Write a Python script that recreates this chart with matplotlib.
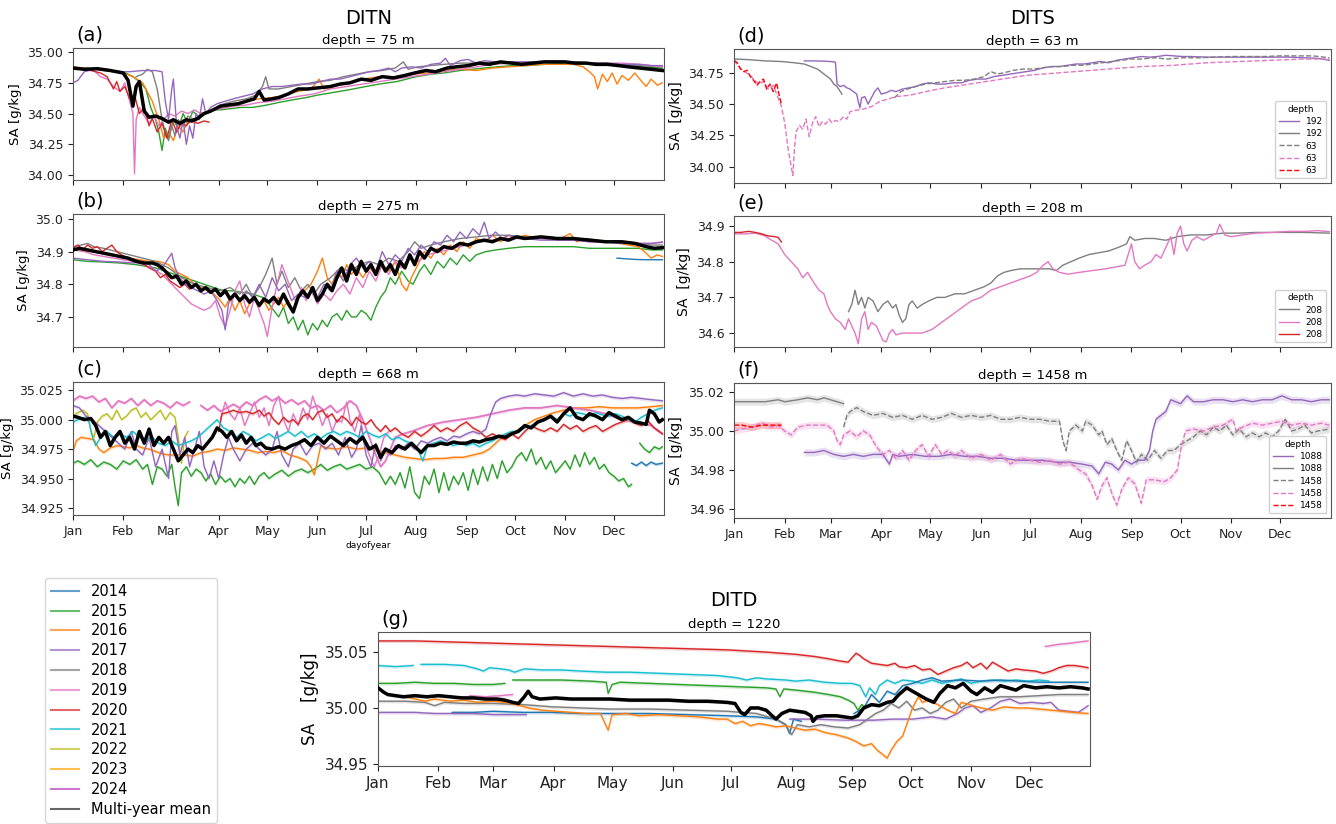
import numpy as np
import matplotlib
matplotlib.use("Agg")
import matplotlib.pyplot as plt
from matplotlib.lines import Line2D

# === colours per year ===
years = ['2014', '2015', '2016', '2017', '2018', '2019', '2020', '2021', '2022', '2023', '2024']
year_colors = ['#1f77b4', '#2ca02c', '#ff7f0e', '#9467bd', '#7f7f7f', '#e377c2',
               '#d62728', '#17becf', '#bcbd22', '#ffa500', '#b93cb9']
col = dict(zip(years, year_colors))

month_starts = [1, 32, 60, 91, 121, 152, 182, 213, 244, 274, 305, 335]
month_names = ['Jan', 'Feb', 'Mar', 'Apr', 'May', 'Jun', 'Jul', 'Aug', 'Sep', 'Oct', 'Nov', 'Dec']

# === (a) DITN, depth = 75 m  (day of year, SA) ===
a_2014 = [(350, 34.87), (358, 34.86), (365, 34.86)]
a_2015 = [(1, 34.87), (8, 34.87), (16, 34.86), (24, 34.85), (32, 34.84), (38, 34.80), (42, 34.76), (46, 34.70),
          (49, 34.55), (52, 34.45), (54, 34.35), (56, 34.20), (58, 34.38), (60, 34.30), (63, 34.45), (66, 34.38),
          (69, 34.50), (72, 34.42), (75, 34.52), (78, 34.48), (82, 34.50), (87, 34.53), (92, 34.53), (98, 34.54),
          (105, 34.55), (112, 34.55), (121, 34.57), (128, 34.59), (136, 34.61), (145, 34.63), (152, 34.65),
          (161, 34.67), (170, 34.69), (182, 34.72), (190, 34.74), (201, 34.76), (207, 34.78), (213, 34.80),
          (222, 34.82), (230, 34.83), (240, 34.85), (247, 34.86), (255, 34.87), (263, 34.88), (272, 34.89),
          (282, 34.89), (292, 34.90), (305, 34.91), (318, 34.91), (330, 34.90), (342, 34.89), (352, 34.88),
          (365, 34.87)]
a_2016 = [(1, 34.88), (8, 34.87), (16, 34.86), (24, 34.85), (32, 34.83), (38, 34.80), (44, 34.75), (50, 34.60),
          (54, 34.45), (57, 34.30), (60, 34.35), (63, 34.28), (66, 34.40), (69, 34.35), (72, 34.45), (76, 34.42),
          (80, 34.50), (86, 34.52), (92, 34.55), (100, 34.57), (108, 34.60), (116, 34.62), (124, 34.63),
          (132, 34.65), (140, 34.68), (148, 34.70), (153, 34.78), (156, 34.70), (164, 34.73), (172, 34.75),
          (180, 34.78), (190, 34.80), (200, 34.80), (210, 34.82), (220, 34.83), (230, 34.85), (240, 34.86),
          (250, 34.85), (260, 34.87), (270, 34.88), (280, 34.89), (290, 34.90), (300, 34.90), (310, 34.90),
          (316, 34.88), (320, 34.84), (323, 34.80), (325, 34.70), (328, 34.82), (331, 34.76), (334, 34.83),
          (337, 34.74), (340, 34.81), (344, 34.77), (348, 34.83), (351, 34.78), (355, 34.72), (358, 34.78),
          (362, 34.73), (365, 34.75)]
a_2017 = [(1, 34.75), (4, 34.77), (8, 34.84), (14, 34.86), (20, 34.85), (28, 34.84), (36, 34.84), (44, 34.85),
          (52, 34.85), (56, 34.84), (58, 34.60), (60, 34.45), (62, 34.70), (63, 34.78), (65, 34.40), (67, 34.30),
          (69, 34.45), (71, 34.25), (73, 34.40), (75, 34.30), (77, 34.50), (79, 34.45), (81, 34.62), (83, 34.50),
          (86, 34.55), (90, 34.58), (95, 34.60), (100, 34.62), (106, 34.64), (112, 34.66), (118, 34.70),
          (124, 34.72), (130, 34.72), (136, 34.73), (142, 34.74), (148, 34.74), (154, 34.76), (160, 34.78),
          (166, 34.78), (172, 34.80), (178, 34.82), (184, 34.84), (190, 34.85), (196, 34.87), (200, 34.84),
          (204, 34.87), (210, 34.88), (216, 34.87), (222, 34.90), (228, 34.91), (231, 34.95), (234, 34.89),
          (240, 34.93), (245, 34.94), (250, 34.91), (255, 34.93), (262, 34.92), (270, 34.92), (280, 34.92),
          (290, 34.92), (300, 34.92), (310, 34.92), (320, 34.91), (330, 34.91), (340, 34.90), (350, 34.90),
          (358, 34.89), (365, 34.89)]
a_2018 = [(40, 34.80), (44, 34.82), (47, 34.86), (50, 34.84), (53, 34.70), (56, 34.45), (58, 34.35), (60, 34.28),
          (62, 34.40), (64, 34.32), (66, 34.45), (69, 34.40), (72, 34.48), (76, 34.45), (80, 34.50), (86, 34.52),
          (92, 34.57), (100, 34.60), (108, 34.62), (114, 34.65), (118, 34.72), (120, 34.80), (122, 34.70),
          (128, 34.70), (136, 34.72), (144, 34.74), (152, 34.76), (160, 34.77), (168, 34.80), (176, 34.82),
          (184, 34.84), (192, 34.85), (200, 34.87), (205, 34.92), (208, 34.86), (214, 34.88), (222, 34.89),
          (230, 34.90), (240, 34.91), (250, 34.91), (262, 34.92), (275, 34.92), (290, 34.92), (305, 34.92),
          (320, 34.91), (335, 34.90), (350, 34.89), (365, 34.88)]
a_2019 = [(1, 34.87), (8, 34.86), (14, 34.85), (18, 34.80), (22, 34.78), (26, 34.72), (30, 34.68), (33, 34.75),
          (36, 34.60), (38, 34.50), (39, 34.01), (40, 34.45), (42, 34.55), (45, 34.48), (48, 34.42), (51, 34.48),
          (54, 34.40), (57, 34.45), (60, 34.50), (64, 34.48), (68, 34.52), (72, 34.50), (76, 34.53), (80, 34.50),
          (86, 34.52), (92, 34.54), (100, 34.56), (108, 34.57), (116, 34.59), (124, 34.60), (132, 34.62),
          (140, 34.64), (150, 34.66), (160, 34.70), (170, 34.72), (180, 34.74), (190, 34.76), (200, 34.78),
          (210, 34.80), (220, 34.82), (230, 34.84), (240, 34.86), (250, 34.88), (260, 34.90), (272, 34.91),
          (285, 34.92), (298, 34.93), (310, 34.92), (325, 34.91), (340, 34.91), (352, 34.90), (365, 34.88)]
a_2020 = [(1, 34.87), (6, 34.86), (12, 34.85), (18, 34.83), (22, 34.80), (26, 34.70), (28, 34.76), (30, 34.68),
          (33, 34.72), (36, 34.62), (39, 34.65), (42, 34.50), (45, 34.55), (48, 34.40), (50, 34.46), (53, 34.35),
          (56, 34.42), (59, 34.30), (62, 34.45), (65, 34.35), (68, 34.42), (71, 34.40), (74, 34.45), (78, 34.42),
          (82, 34.44), (85, 34.43)]
a_mean = [(1, 34.87), (8, 34.86), (16, 34.865), (24, 34.85), (32, 34.83), (35, 34.77), (38, 34.56), (40, 34.72),
          (42, 34.76), (45, 34.52), (48, 34.47), (52, 34.48), (56, 34.46), (60, 34.43), (63, 34.45), (67, 34.42),
          (71, 34.45), (74, 34.44), (78, 34.46), (82, 34.50), (86, 34.52), (92, 34.56), (97, 34.57),
          (103, 34.58), (108, 34.60), (113, 34.62), (116, 34.68), (119, 34.61), (124, 34.62), (128, 34.63),
          (134, 34.66), (140, 34.70), (146, 34.70), (153, 34.71), (160, 34.72), (166, 34.74), (172, 34.75),
          (179, 34.78), (185, 34.77), (192, 34.80), (199, 34.79), (206, 34.81), (212, 34.83), (219, 34.85),
          (225, 34.84), (232, 34.87), (238, 34.88), (245, 34.89), (252, 34.91), (258, 34.90), (265, 34.92),
          (272, 34.91), (278, 34.90), (285, 34.91), (292, 34.92), (298, 34.92), (305, 34.92), (311, 34.91),
          (318, 34.91), (324, 34.90), (331, 34.90), (338, 34.89), (344, 34.88), (351, 34.87), (358, 34.86),
          (365, 34.85)]

# === (b) DITN, depth = 275 m ===
b_2014 = [(337, 34.88), (342, 34.878), (348, 34.876), (355, 34.875), (365, 34.875)]
b_2015 = [(1, 34.875), (10, 34.87), (20, 34.868), (30, 34.865), (40, 34.86), (46, 34.855), (52, 34.85),
          (58, 34.84), (64, 34.83), (70, 34.82), (76, 34.81), (82, 34.80), (88, 34.79), (94, 34.78), (100, 34.78),
          (106, 34.775), (112, 34.77), (118, 34.76), (122, 34.74), (125, 34.72), (128, 34.70), (131, 34.73),
          (134, 34.68), (137, 34.70), (140, 34.66), (143, 34.69), (146, 34.645), (149, 34.68), (152, 34.66),
          (155, 34.69), (158, 34.67), (161, 34.70), (164, 34.71), (167, 34.69), (170, 34.72), (173, 34.70),
          (176, 34.70), (179, 34.72), (182, 34.71), (185, 34.69), (188, 34.73), (191, 34.76), (194, 34.78),
          (197, 34.82), (200, 34.80), (204, 34.84), (208, 34.81), (211, 34.80), (215, 34.84), (218, 34.86),
          (222, 34.83), (226, 34.87), (230, 34.85), (234, 34.88), (238, 34.86), (242, 34.89), (246, 34.87),
          (250, 34.89), (256, 34.90), (262, 34.905), (270, 34.91), (280, 34.915), (290, 34.915), (300, 34.915),
          (310, 34.915), (320, 34.91), (330, 34.91), (340, 34.91), (350, 34.91), (358, 34.905), (365, 34.905)]
b_2016 = [(1, 34.91), (6, 34.905), (12, 34.90), (18, 34.895), (24, 34.89), (30, 34.885), (36, 34.88),
          (42, 34.875), (48, 34.87), (54, 34.87), (60, 34.86), (64, 34.84), (68, 34.83), (72, 34.82), (76, 34.80),
          (80, 34.79), (84, 34.78), (88, 34.77), (92, 34.75), (95, 34.73), (98, 34.76), (101, 34.72),
          (104, 34.75), (107, 34.71), (110, 34.74), (113, 34.76), (116, 34.73), (119, 34.75), (122, 34.72),
          (125, 34.74), (128, 34.76), (131, 34.73), (134, 34.75), (137, 34.72), (140, 34.76), (144, 34.78),
          (148, 34.80), (152, 34.84), (155, 34.88), (158, 34.82), (161, 34.80), (164, 34.84), (167, 34.82),
          (170, 34.86), (173, 34.83), (176, 34.85), (180, 34.82), (184, 34.85), (188, 34.83), (192, 34.86),
          (196, 34.84), (200, 34.87), (204, 34.80), (207, 34.78), (210, 34.82), (214, 34.86), (218, 34.90),
          (222, 34.88), (226, 34.91), (230, 34.89), (234, 34.92), (238, 34.90), (242, 34.93), (246, 34.91),
          (250, 34.94), (255, 34.93), (260, 34.95), (265, 34.93), (270, 34.95), (275, 34.94), (280, 34.95),
          (288, 34.94), (295, 34.945), (302, 34.94), (308, 34.955), (312, 34.93), (318, 34.94), (325, 34.935),
          (332, 34.93), (338, 34.925), (344, 34.92), (350, 34.915), (354, 34.90), (358, 34.88), (362, 34.89),
          (365, 34.885)]
b_2017 = [(1, 34.88), (10, 34.875), (20, 34.87), (30, 34.868), (38, 34.865), (44, 34.87), (48, 34.86),
          (52, 34.84), (56, 34.85), (60, 34.88), (62, 34.895), (64, 34.85), (67, 34.82), (70, 34.80), (74, 34.79),
          (78, 34.78), (82, 34.77), (86, 34.78), (90, 34.75), (93, 34.72), (95, 34.66), (97, 34.74), (100, 34.77),
          (104, 34.75), (108, 34.78), (112, 34.76), (116, 34.80), (120, 34.76), (124, 34.82), (128, 34.78),
          (132, 34.80), (136, 34.75), (140, 34.77), (144, 34.76), (148, 34.78), (152, 34.76), (156, 34.80),
          (160, 34.78), (164, 34.84), (168, 34.81), (172, 34.86), (176, 34.88), (180, 34.85), (184, 34.87),
          (188, 34.84), (192, 34.90), (196, 34.86), (200, 34.89), (204, 34.87), (208, 34.91), (212, 34.89),
          (216, 34.92), (220, 34.90), (224, 34.93), (228, 34.92), (232, 34.95), (236, 34.93), (240, 34.96),
          (244, 34.94), (248, 34.97), (252, 34.95), (255, 34.99), (258, 34.94), (262, 34.96), (266, 34.94),
          (270, 34.95), (280, 34.94), (290, 34.935), (300, 34.935), (310, 34.935), (320, 34.93), (330, 34.93),
          (340, 34.925), (350, 34.925), (358, 34.925), (365, 34.928)]
b_2018 = [(1, 34.915), (6, 34.92), (10, 34.925), (14, 34.915), (20, 34.91), (28, 34.90), (36, 34.89), (44, 34.88),
          (52, 34.87), (60, 34.85), (68, 34.82), (76, 34.80), (84, 34.79), (92, 34.78), (98, 34.79), (104, 34.77),
          (108, 34.80), (112, 34.76), (116, 34.79), (120, 34.83), (124, 34.88), (127, 34.80), (130, 34.84),
          (134, 34.79), (138, 34.82), (142, 34.78), (146, 34.80), (150, 34.77), (154, 34.80), (160, 34.82),
          (166, 34.85), (172, 34.84), (178, 34.86), (184, 34.87), (190, 34.86), (196, 34.88), (202, 34.87),
          (208, 34.90), (212, 34.93), (216, 34.91), (222, 34.92), (230, 34.93), (240, 34.94), (250, 34.945),
          (260, 34.95), (270, 34.95), (280, 34.945), (290, 34.94), (300, 34.94), (310, 34.935), (320, 34.935),
          (330, 34.93), (340, 34.93), (350, 34.925), (358, 34.92), (365, 34.92)]
b_2019 = [(1, 34.905), (8, 34.90), (14, 34.89), (20, 34.885), (26, 34.88), (32, 34.875), (38, 34.87), (44, 34.86),
          (50, 34.85), (56, 34.83), (62, 34.80), (66, 34.78), (70, 34.76), (74, 34.74), (78, 34.73), (82, 34.72),
          (86, 34.73), (89, 34.75), (92, 34.70), (95, 34.67), (98, 34.72), (101, 34.78), (104, 34.81),
          (107, 34.74), (110, 34.70), (113, 34.76), (116, 34.72), (119, 34.68), (121, 34.64), (124, 34.73),
          (127, 34.80), (130, 34.86), (133, 34.82), (136, 34.78), (139, 34.74), (142, 34.79), (145, 34.75),
          (148, 34.78), (152, 34.74), (156, 34.77), (160, 34.75), (164, 34.78), (168, 34.80), (172, 34.77),
          (176, 34.82), (180, 34.79), (184, 34.84), (188, 34.81), (192, 34.86), (196, 34.83), (200, 34.87),
          (204, 34.85), (208, 34.88), (214, 34.87), (220, 34.89), (228, 34.90), (236, 34.91), (244, 34.92),
          (252, 34.93), (260, 34.935), (270, 34.94), (280, 34.94), (290, 34.94), (300, 34.935), (310, 34.935),
          (320, 34.93), (330, 34.93), (340, 34.93), (350, 34.925), (358, 34.925), (365, 34.93)]
b_2020 = [(1, 34.91), (4, 34.92), (7, 34.905), (10, 34.92), (13, 34.91), (16, 34.915), (19, 34.90), (22, 34.91),
          (25, 34.92), (28, 34.90), (31, 34.89), (35, 34.88), (40, 34.875), (45, 34.86), (48, 34.85), (52, 34.84),
          (55, 34.82), (58, 34.83), (61, 34.81), (64, 34.80), (67, 34.79), (70, 34.80), (73, 34.785)]
b_mean = [(1, 34.905), (5, 34.91), (10, 34.905), (15, 34.90), (20, 34.895), (25, 34.89), (30, 34.885), (35, 34.88),
          (40, 34.87), (45, 34.865), (50, 34.865), (53, 34.86), (56, 34.85), (59, 34.835), (62, 34.82),
          (65, 34.825), (68, 34.80), (71, 34.81), (74, 34.79), (77, 34.80), (80, 34.78), (83, 34.79), (86, 34.775),
          (89, 34.785), (92, 34.765), (95, 34.78), (98, 34.755), (101, 34.77), (104, 34.75), (107, 34.765),
          (110, 34.745), (113, 34.76), (116, 34.735), (119, 34.755), (122, 34.745), (125, 34.76), (128, 34.74),
          (131, 34.77), (134, 34.74), (137, 34.715), (140, 34.76), (143, 34.78), (146, 34.76), (149, 34.79),
          (152, 34.75), (155, 34.77), (158, 34.80), (161, 34.78), (164, 34.82), (167, 34.85), (170, 34.81),
          (173, 34.86), (176, 34.83), (179, 34.87), (182, 34.84), (185, 34.86), (188, 34.83), (191, 34.87),
          (194, 34.84), (197, 34.86), (200, 34.83), (203, 34.87), (206, 34.85), (209, 34.89), (212, 34.86),
          (215, 34.90), (218, 34.88), (222, 34.91), (226, 34.90), (230, 34.915), (235, 34.91), (240, 34.925),
          (245, 34.92), (250, 34.93), (255, 34.935), (260, 34.93), (265, 34.94), (270, 34.935), (275, 34.945),
          (280, 34.94), (290, 34.945), (300, 34.94), (310, 34.94), (320, 34.935), (330, 34.93), (340, 34.93),
          (348, 34.925), (355, 34.915), (360, 34.91), (365, 34.912)]

# === (c) DITN, depth = 668 m ===
c_2014 = [(346, 34.963), (349, 34.961), (352, 34.964), (355, 34.961), (358, 34.964), (361, 34.962), (365, 34.963)]
c_2015 = [(1, 34.963), (4, 34.965), (8, 34.962), (12, 34.966), (16, 34.96), (20, 34.964), (24, 34.962),
          (28, 34.958), (32, 34.965), (36, 34.962), (40, 34.966), (44, 34.958), (47, 34.962), (50, 34.945),
          (53, 34.96), (56, 34.958), (59, 34.952), (62, 34.962), (64, 34.943), (66, 34.927), (68, 34.955),
          (71, 34.96), (74, 34.952), (77, 34.958), (80, 34.955), (83, 34.948), (86, 34.954), (89, 34.945),
          (92, 34.952), (95, 34.947), (98, 34.95), (101, 34.943), (104, 34.95), (107, 34.946), (110, 34.952),
          (113, 34.945), (116, 34.952), (119, 34.955), (122, 34.95), (126, 34.954), (130, 34.957), (134, 34.952),
          (138, 34.956), (142, 34.958), (146, 34.955), (150, 34.958), (154, 34.962), (158, 34.957), (162, 34.96),
          (166, 34.962), (170, 34.958), (174, 34.96), (178, 34.962), (182, 34.958), (186, 34.96), (190, 34.955),
          (194, 34.945), (197, 34.952), (200, 34.945), (203, 34.955), (206, 34.942), (209, 34.96), (212, 34.938),
          (215, 34.933), (218, 34.952), (221, 34.945), (224, 34.958), (227, 34.938), (230, 34.955), (233, 34.94),
          (236, 34.952), (239, 34.945), (242, 34.955), (245, 34.94), (248, 34.958), (251, 34.945), (254, 34.96),
          (257, 34.948), (260, 34.962), (263, 34.95), (266, 34.965), (269, 34.955), (272, 34.96), (275, 34.968),
          (278, 34.972), (281, 34.965), (284, 34.975), (287, 34.962), (290, 34.968), (293, 34.958), (296, 34.965),
          (299, 34.955), (302, 34.96), (305, 34.965), (308, 34.958), (311, 34.97), (314, 34.96), (317, 34.972),
          (320, 34.962), (323, 34.968), (326, 34.958), (329, 34.962), (332, 34.955), (335, 34.952), (338, 34.948),
          (341, 34.95), (344, 34.943), (346, 34.945)]
c_2015_end = [(351, 34.98), (354, 34.975), (357, 34.972), (360, 34.977), (363, 34.975), (365, 34.977)]
c_2016 = [(1, 34.973), (3, 34.982), (6, 34.985), (10, 34.984), (14, 34.983), (17, 34.975), (20, 34.972),
          (24, 34.976), (28, 34.978), (32, 34.977), (36, 34.976), (40, 34.978), (44, 34.976), (48, 34.975),
          (52, 34.973), (56, 34.971), (60, 34.97), (65, 34.97), (70, 34.97), (75, 34.969), (80, 34.972),
          (85, 34.973), (90, 34.975), (95, 34.974), (100, 34.976), (105, 34.975), (110, 34.974), (115, 34.972),
          (120, 34.973), (125, 34.972), (130, 34.974), (135, 34.97), (140, 34.968), (145, 34.965), (148, 34.96),
          (150, 34.953), (152, 34.965), (154, 34.978), (158, 34.976), (164, 34.975), (170, 34.977), (176, 34.975),
          (182, 34.976), (188, 34.974), (194, 34.972), (200, 34.97), (206, 34.968), (212, 34.967), (218, 34.966),
          (224, 34.967), (230, 34.967), (236, 34.968), (242, 34.968), (248, 34.97), (254, 34.972), (258, 34.975),
          (262, 34.98), (266, 34.985), (270, 34.988), (274, 34.99), (280, 34.995), (286, 35.0), (292, 35.003),
          (298, 35.006), (304, 35.008), (310, 35.01), (318, 35.01), (326, 35.011), (334, 35.01), (342, 35.01),
          (350, 35.01), (358, 35.011), (365, 35.012)]
c_2017 = [(1, 35.012), (5, 35.01), (9, 35.003), (13, 35.0), (17, 34.995), (21, 34.99), (25, 34.985), (29, 34.98),
          (33, 34.975), (37, 34.99), (40, 34.975), (44, 34.97), (48, 34.985), (52, 34.96), (56, 34.975),
          (60, 34.95), (62, 34.99), (64, 34.995), (67, 34.97), (70, 34.985), (73, 34.96), (76, 34.975),
          (79, 34.99), (82, 34.96), (85, 34.95), (88, 34.965), (91, 34.95), (94, 34.97), (97, 34.985),
          (100, 34.975), (104, 34.965), (108, 34.975), (112, 34.98), (116, 34.975), (120, 34.97), (124, 34.975),
          (127, 34.99), (130, 34.97), (134, 34.96), (137, 34.975), (141, 34.98), (145, 34.97), (149, 34.978),
          (153, 34.98), (157, 34.975), (161, 34.98), (165, 34.97), (169, 34.985), (173, 34.968), (176, 34.975),
          (179, 34.995), (182, 34.97), (185, 34.96), (188, 34.98), (191, 34.965), (194, 34.975), (197, 34.97),
          (200, 34.978), (204, 34.975), (208, 34.98), (212, 34.975), (216, 34.982), (220, 34.98), (224, 34.983),
          (228, 34.985), (232, 34.982), (236, 34.986), (240, 34.985), (244, 34.988), (248, 34.99), (252, 34.988),
          (256, 34.992), (259, 35.005), (262, 35.015), (265, 35.018), (270, 35.02), (275, 35.021), (280, 35.02),
          (286, 35.022), (292, 35.021), (298, 35.02), (304, 35.023), (310, 35.02), (316, 35.022), (322, 35.02),
          (328, 35.021), (334, 35.019), (340, 35.018), (346, 35.019), (352, 35.018), (358, 35.017), (365, 35.016)]
c_2019 = [(1, 35.016), (5, 35.02), (9, 35.018), (13, 35.02), (17, 35.015), (21, 35.018), (25, 35.01),
          (29, 35.016), (33, 35.014), (37, 35.018), (41, 35.012), (45, 35.017), (49, 35.012), (53, 35.016),
          (57, 35.014), (61, 35.01), (65, 35.015), (69, 35.012), (73, 35.015)]
c_2019_b = [(80, 35.012), (84, 35.008), (88, 35.012), (92, 35.007), (96, 35.01), (100, 35.013), (104, 35.01),
            (108, 35.015), (112, 35.012), (116, 35.017), (120, 35.02), (124, 35.016), (128, 35.019),
            (132, 35.014), (136, 35.017), (140, 35.013), (144, 35.016), (148, 35.01), (152, 35.012), (156, 35.008),
            (160, 35.012), (164, 35.006), (168, 35.01), (172, 35.016), (176, 35.012), (180, 35.0), (184, 34.985),
            (188, 34.97), (191, 34.96), (194, 34.965), (197, 34.975), (200, 34.985), (205, 34.988), (210, 34.99),
            (220, 34.995), (230, 34.998), (240, 35.0), (250, 35.002), (260, 35.005), (270, 35.008), (280, 35.01),
            (290, 35.01), (300, 35.012), (310, 35.01), (320, 35.008), (330, 35.005), (340, 35.0), (350, 34.998),
            (358, 34.995), (365, 34.988)]
c_2024 = [(92, 35.0), (95, 35.015), (98, 35.005), (101, 35.0), (104, 35.01), (107, 34.995), (110, 35.005),
          (113, 35.015), (116, 35.002), (119, 35.01), (122, 34.995), (125, 35.012), (128, 35.02), (131, 35.0),
          (134, 34.99), (137, 35.005), (140, 34.995), (143, 35.01), (146, 35.0), (149, 35.02), (152, 35.008),
          (155, 34.995), (158, 35.005), (161, 34.99), (164, 35.0), (167, 34.998), (170, 35.015), (172, 35.0),
          (175, 34.99), (178, 35.005), (181, 34.98), (184, 34.97), (187, 34.96), (190, 34.97), (193, 34.985),
          (196, 34.99)]
c_2020 = [(91, 34.99), (93, 35.005), (96, 35.006), (100, 35.008), (104, 35.006), (108, 35.007), (112, 35.005),
          (116, 35.008), (119, 35.003), (122, 35.006), (125, 35.0), (128, 34.996), (131, 35.002), (134, 34.998),
          (137, 35.0), (140, 34.996), (143, 35.003), (146, 35.005), (149, 35.0), (152, 35.006), (155, 35.008),
          (158, 35.002), (161, 35.005), (164, 34.998), (167, 35.003), (170, 35.0), (173, 34.995), (176, 35.002),
          (179, 34.998), (182, 34.996), (185, 35.0), (188, 34.994), (191, 34.99), (194, 34.995), (197, 34.99),
          (200, 34.993), (204, 34.988), (208, 34.985), (212, 34.99), (216, 34.986), (220, 34.99), (224, 34.995),
          (228, 34.99), (232, 34.993), (236, 34.99), (240, 34.995), (244, 34.998), (248, 34.993), (252, 34.99),
          (256, 34.985), (260, 34.988), (264, 34.985), (268, 34.983), (272, 34.988), (276, 34.984), (280, 34.99),
          (284, 34.995), (288, 34.992), (292, 34.99), (296, 34.993), (300, 34.99), (304, 34.996), (308, 34.992),
          (312, 34.995), (316, 34.99), (320, 34.993), (324, 34.995), (328, 34.99), (332, 34.993), (336, 34.996),
          (340, 34.998), (344, 35.0), (348, 34.997), (352, 34.995), (356, 34.999), (360, 34.993), (365, 34.988)]
c_2021 = [(1, 34.998), (4, 35.0), (8, 35.002), (11, 34.998), (13, 34.985), (15, 34.978), (18, 34.985), (22, 34.99),
          (26, 34.985), (30, 34.988), (34, 34.985), (38, 34.99), (42, 34.985), (46, 34.982), (50, 34.985),
          (54, 34.98), (58, 34.978), (62, 34.982), (66, 34.978), (70, 34.98), (74, 34.982), (78, 34.985),
          (82, 34.99), (86, 34.995), (90, 35.0), (94, 34.993), (98, 34.99), (102, 34.985), (106, 34.99),
          (110, 34.987), (114, 34.982), (118, 34.985), (122, 34.988), (126, 34.984), (130, 34.987), (134, 34.99),
          (138, 34.986), (142, 34.99), (146, 34.985), (150, 34.988), (154, 34.984), (158, 34.988), (162, 34.99),
          (166, 34.987), (170, 34.99), (174, 34.988), (178, 34.985), (182, 34.99), (186, 34.987), (190, 34.985),
          (194, 34.988), (198, 34.983), (202, 34.985), (206, 34.982), (210, 34.98), (214, 34.975), (217, 34.965),
          (220, 34.978), (224, 34.98), (228, 34.982), (232, 34.98), (236, 34.978), (240, 34.98), (244, 34.978),
          (248, 34.98), (252, 34.977), (256, 34.98), (260, 34.982), (264, 34.985), (268, 34.988), (272, 34.99),
          (276, 34.99), (280, 34.993), (284, 34.995), (288, 34.998), (292, 35.0), (296, 35.003), (300, 35.0),
          (304, 35.005), (308, 35.003), (312, 35.006), (316, 35.005), (320, 35.003), (324, 35.006), (328, 35.004),
          (332, 35.003), (336, 35.005), (340, 35.003), (344, 35.0), (348, 34.998), (352, 35.002), (356, 35.005),
          (360, 35.008), (365, 35.01)]
c_2022 = [(1, 35.003), (4, 35.006), (7, 35.008), (10, 35.005), (12, 34.99), (14, 34.985), (16, 34.998), (19, 35.003),
          (22, 35.005), (25, 35.0), (28, 35.008), (31, 35.0), (34, 35.003), (37, 35.008), (40, 35.01), (43, 35.002),
          (46, 35.006), (49, 35.0), (52, 35.004), (55, 35.008), (58, 35.0), (61, 35.006), (64, 35.002),
          (66, 34.985), (68, 34.963), (70, 34.985), (72, 34.99)]
c_mean = [(1, 35.003), (4, 35.002), (8, 35.0), (12, 35.001), (15, 34.995), (18, 34.985), (21, 34.99), (24, 34.978),
          (27, 34.985), (30, 34.99), (33, 34.98), (36, 34.985), (39, 34.975), (42, 34.99), (45, 34.98),
          (48, 34.992), (51, 34.978), (54, 34.985), (57, 34.98), (60, 34.985), (63, 34.975), (66, 34.965),
          (69, 34.97), (72, 34.975), (75, 34.972), (78, 34.978), (81, 34.975), (84, 34.98), (87, 34.985),
          (90, 34.993), (93, 34.99), (96, 34.985), (99, 34.99), (102, 34.982), (105, 34.987), (108, 34.98),
          (111, 34.985), (114, 34.978), (117, 34.98), (120, 34.976), (124, 34.975), (128, 34.977), (132, 34.975),
          (136, 34.978), (140, 34.98), (144, 34.983), (148, 34.978), (152, 34.985), (156, 34.98), (160, 34.986),
          (164, 34.982), (168, 34.978), (172, 34.984), (176, 34.98), (180, 34.985), (184, 34.975), (188, 34.978),
          (191, 34.968), (194, 34.975), (198, 34.972), (202, 34.978), (206, 34.975), (210, 34.98), (213, 34.976),
          (216, 34.972), (220, 34.978), (224, 34.978), (228, 34.98), (232, 34.979), (236, 34.981), (240, 34.98),
          (244, 34.98), (248, 34.982), (252, 34.981), (256, 34.983), (260, 34.984), (264, 34.986), (268, 34.985),
          (272, 34.988), (276, 34.99), (280, 34.995), (284, 34.993), (288, 34.998), (292, 35.0), (296, 35.003),
          (300, 34.998), (304, 35.005), (308, 35.01), (312, 35.002), (316, 35.0), (320, 35.005), (324, 35.003),
          (328, 35.0), (332, 35.006), (336, 35.003), (340, 35.0), (344, 35.002), (348, 34.998), (352, 34.997),
          (355, 34.996), (357, 35.008), (360, 35.005), (363, 34.998), (365, 35.0)]

# === (d) DITS, depth = 63 m ===
d_192_purple = [(44, 34.845), (50, 34.845), (56, 34.843), (60, 34.84), (63, 34.835), (64, 34.66), (66, 34.64),
                (68, 34.65), (70, 34.63), (72, 34.62), (74, 34.60), (76, 34.58), (77, 34.52), (78, 34.47),
                (79, 34.55), (81, 34.56), (83, 34.50), (85, 34.55), (87, 34.60), (89, 34.63), (91, 34.58),
                (94, 34.59), (97, 34.61), (100, 34.60), (104, 34.62), (108, 34.63), (112, 34.64), (116, 34.66),
                (120, 34.67), (125, 34.66), (130, 34.66), (135, 34.67), (140, 34.67), (145, 34.69), (150, 34.70),
                (155, 34.70), (160, 34.72), (165, 34.73), (170, 34.74), (175, 34.75), (180, 34.76), (185, 34.77),
                (190, 34.79), (195, 34.80), (200, 34.80), (205, 34.81), (210, 34.82), (215, 34.82), (220, 34.83),
                (225, 34.84), (230, 34.83), (235, 34.85), (240, 34.86), (245, 34.87), (250, 34.88), (255, 34.875),
                (260, 34.88), (265, 34.89), (270, 34.885), (275, 34.88), (280, 34.88), (290, 34.875), (300, 34.875),
                (310, 34.875), (320, 34.875), (330, 34.875), (340, 34.875), (350, 34.87), (358, 34.865), (365, 34.85)]
d_192_gray = [(1, 34.86), (10, 34.855), (20, 34.845), (30, 34.84), (38, 34.83), (44, 34.82), (48, 34.80),
              (52, 34.78), (55, 34.75), (58, 34.72), (60, 34.70), (62, 34.66), (64, 34.64), (66, 34.60), (67, 34.58)]
d_63_gray = [(99, 34.55), (103, 34.60), (107, 34.62), (112, 34.64), (118, 34.66), (124, 34.67), (130, 34.68),
             (136, 34.69), (142, 34.69), (148, 34.70), (154, 34.72), (158, 34.76), (162, 34.74), (166, 34.75),
             (172, 34.77), (178, 34.78), (184, 34.78), (190, 34.79), (196, 34.80), (202, 34.80), (208, 34.81),
             (214, 34.81), (220, 34.82), (226, 34.83), (232, 34.84), (238, 34.85), (244, 34.86), (250, 34.86),
             (258, 34.87), (266, 34.86), (275, 34.87), (285, 34.87), (295, 34.875), (305, 34.88), (315, 34.88),
             (325, 34.88), (335, 34.885), (345, 34.885), (355, 34.885), (365, 34.87)]
d_63_pink = [(1, 34.85), (4, 34.80), (7, 34.76), (10, 34.74), (13, 34.70), (16, 34.66), (19, 34.68), (22, 34.62),
             (25, 34.65), (28, 34.55), (30, 34.48), (32, 34.35), (34, 34.15), (36, 34.0), (37, 33.93), (38, 34.15),
             (39, 34.28), (41, 34.33), (43, 34.30), (45, 34.38), (47, 34.24), (49, 34.35), (51, 34.40), (53, 34.32),
             (55, 34.36), (57, 34.34), (59, 34.38), (61, 34.35), (63, 34.37), (65, 34.36), (68, 34.40), (70, 34.38),
             (72, 34.44), (75, 34.45), (80, 34.46), (85, 34.48), (90, 34.52), (95, 34.54), (100, 34.56),
             (108, 34.57), (115, 34.59), (122, 34.61), (130, 34.63), (140, 34.65), (150, 34.67), (160, 34.69),
             (170, 34.71), (180, 34.73), (190, 34.74), (200, 34.75), (210, 34.76), (220, 34.77), (230, 34.78),
             (240, 34.79), (250, 34.80), (260, 34.805), (270, 34.81), (280, 34.82), (290, 34.83), (300, 34.835),
             (310, 34.84), (320, 34.845), (330, 34.85), (340, 34.855), (350, 34.86), (365, 34.86)]
d_63_red = [(1, 34.85), (3, 34.83), (5, 34.78), (7, 34.76), (9, 34.77), (11, 34.72), (13, 34.69), (15, 34.65),
            (17, 34.68), (19, 34.70), (21, 34.62), (23, 34.66), (25, 34.60), (27, 34.67), (29, 34.55), (30, 34.50)]

# === (e) DITS, depth = 208 m ===
e_gray = [(71, 34.66), (73, 34.68), (75, 34.72), (77, 34.68), (79, 34.70), (81, 34.67), (83, 34.70), (86, 34.69),
          (89, 34.66), (92, 34.68), (95, 34.69), (98, 34.67), (100, 34.68), (102, 34.65), (104, 34.63),
          (106, 34.64), (108, 34.68), (110, 34.69), (113, 34.67), (116, 34.68), (120, 34.69), (125, 34.70),
          (130, 34.70), (136, 34.71), (142, 34.71), (148, 34.72), (154, 34.73), (158, 34.74), (162, 34.76),
          (166, 34.77), (170, 34.775), (176, 34.78), (182, 34.78), (188, 34.78), (194, 34.78), (198, 34.775),
          (202, 34.79), (207, 34.80), (212, 34.81), (218, 34.82), (224, 34.825), (230, 34.83), (236, 34.84),
          (241, 34.85), (243, 34.87), (246, 34.86), (252, 34.865), (258, 34.865), (265, 34.86), (272, 34.87),
          (280, 34.875), (290, 34.875), (300, 34.88), (310, 34.88), (320, 34.882), (335, 34.882), (350, 34.882),
          (365, 34.88)]
e_pink = [(1, 34.878), (8, 34.878), (14, 34.88), (20, 34.872), (24, 34.86), (28, 34.85), (32, 34.82), (36, 34.80),
          (40, 34.78), (43, 34.755), (46, 34.77), (50, 34.74), (53, 34.72), (56, 34.71), (58, 34.68), (60, 34.66),
          (63, 34.64), (66, 34.63), (69, 34.61), (71, 34.64), (73, 34.62), (75, 34.60), (77, 34.57), (79, 34.64),
          (81, 34.66), (83, 34.61), (85, 34.63), (88, 34.62), (90, 34.60), (92, 34.58), (94, 34.575), (96, 34.60),
          (98, 34.61), (100, 34.595), (104, 34.60), (110, 34.60), (116, 34.60), (122, 34.61), (128, 34.63),
          (134, 34.65), (140, 34.67), (146, 34.69), (152, 34.70), (158, 34.72), (164, 34.73), (170, 34.74),
          (176, 34.75), (182, 34.76), (186, 34.77), (190, 34.79), (193, 34.80), (196, 34.78), (200, 34.77),
          (205, 34.765), (212, 34.77), (220, 34.775), (228, 34.78), (234, 34.785), (240, 34.79), (242, 34.82),
          (244, 34.85), (246, 34.80), (249, 34.78), (252, 34.79), (256, 34.80), (259, 34.82), (262, 34.81),
          (265, 34.84), (268, 34.87), (270, 34.82), (272, 34.88), (274, 34.90), (276, 34.85), (278, 34.83),
          (281, 34.86), (284, 34.87), (288, 34.86), (292, 34.87), (296, 34.88), (298, 34.905), (301, 34.875),
          (305, 34.87), (312, 34.875), (320, 34.88), (330, 34.882), (340, 34.885), (350, 34.885), (358, 34.887),
          (365, 34.884)]
e_red = [(1, 34.882), (5, 34.882), (10, 34.885), (14, 34.882), (18, 34.878), (22, 34.872), (26, 34.87), (28, 34.868),
         (30, 34.855)]

# === (f) DITS, depth = 1458 m ===
f_1088_gray = [(1, 35.015), (10, 35.015), (20, 35.015), (28, 35.016), (32, 35.015), (40, 35.016), (46, 35.017),
               (52, 35.016), (56, 35.017), (60, 35.016), (64, 35.015), (68, 35.014)]
f_1458_gray = [(68, 35.002), (70, 35.008), (72, 35.01), (76, 35.012), (80, 35.01), (86, 35.008), (92, 35.009),
               (98, 35.007), (104, 35.008), (110, 35.006), (116, 35.008), (122, 35.006), (128, 35.007), (134, 35.009),
               (140, 35.007), (146, 35.008), (152, 35.007), (158, 35.008), (164, 35.006), (170, 35.006),
               (176, 35.007), (182, 35.006), (188, 35.006), (194, 35.005), (200, 35.005), (202, 34.995), (204, 34.99),
               (206, 35.0), (210, 35.003), (214, 35.0), (216, 35.005), (220, 35.003), (224, 34.998), (226, 35.0),
               (229, 34.993), (232, 34.996), (235, 34.99), (238, 34.985), (241, 34.995), (244, 34.99), (247, 34.984),
               (250, 34.988), (254, 34.985), (258, 34.99), (262, 34.986), (266, 34.99), (270, 34.99), (274, 34.993),
               (278, 34.995), (282, 34.997), (286, 35.0), (290, 34.998), (294, 35.002), (298, 35.0), (302, 35.003),
               (306, 34.998), (310, 35.001), (314, 34.997), (318, 34.999), (322, 34.997), (326, 34.999),
               (330, 34.997), (334, 35.0), (338, 35.006), (342, 35.0), (346, 35.001), (350, 35.003), (354, 34.999),
               (358, 35.0), (365, 35.001)]
f_1088_purple = [(44, 34.989), (50, 34.989), (56, 34.99), (62, 34.988), (68, 34.987), (74, 34.988), (80, 34.987),
                 (86, 34.988), (92, 34.988), (96, 34.983), (98, 34.988), (102, 34.987), (110, 34.988), (118, 34.987),
                 (126, 34.987), (134, 34.988), (142, 34.987), (150, 34.987), (158, 34.986), (166, 34.986),
                 (174, 34.985), (182, 34.985), (190, 34.985), (198, 34.984), (206, 34.984), (214, 34.983),
                 (220, 34.982), (224, 34.978), (228, 34.984), (232, 34.983), (236, 34.98), (240, 34.985),
                 (244, 34.983), (248, 34.985), (252, 34.985), (255, 34.99), (257, 35.0), (259, 35.006), (262, 35.008),
                 (265, 35.01), (268, 35.016), (271, 35.015), (274, 35.014), (278, 35.018), (282, 35.015),
                 (288, 35.015), (294, 35.016), (300, 35.016), (306, 35.015), (312, 35.016), (318, 35.015),
                 (324, 35.016), (330, 35.016), (336, 35.018), (342, 35.016), (348, 35.016), (354, 35.015),
                 (360, 35.016), (365, 35.016)]
f_1458_pink = [(1, 35.0), (6, 35.001), (12, 35.002), (18, 35.004), (24, 35.002), (28, 35.003), (32, 35.0), (36, 34.998),
               (40, 35.002), (46, 35.003), (52, 35.003), (58, 35.003), (62, 35.0), (64, 34.995), (66, 34.993),
               (68, 34.998), (72, 35.0), (76, 34.997), (80, 35.0), (84, 34.998), (88, 34.992), (92, 34.988),
               (96, 34.99), (100, 34.986), (104, 34.99), (108, 34.985), (112, 34.99), (116, 34.993), (120, 34.987),
               (124, 34.993), (128, 34.988), (132, 34.99), (136, 34.987), (140, 34.99), (146, 34.986), (152, 34.988),
               (158, 34.985), (164, 34.988), (170, 34.983), (176, 34.986), (182, 34.985), (188, 34.984),
               (194, 34.985), (200, 34.983), (206, 34.984), (212, 34.98), (216, 34.978), (220, 34.972),
               (223, 34.965), (226, 34.972), (229, 34.976), (232, 34.968), (235, 34.962), (238, 34.97), (242, 34.976),
               (246, 34.973), (250, 34.963), (253, 34.975), (258, 34.975), (264, 34.974), (268, 34.976), (272, 34.98),
               (274, 34.99), (277, 35.0), (282, 35.001), (288, 35.0), (294, 35.002), (300, 35.003), (306, 35.006),
               (308, 35.0), (312, 35.002), (318, 35.004), (324, 35.003), (330, 35.004), (336, 35.005), (342, 35.003),
               (348, 35.004), (354, 35.003), (360, 35.004), (365, 35.003)]
f_1458_red = [(1, 35.003), (6, 35.003), (12, 35.002), (18, 35.003), (24, 35.003), (30, 35.003)]

# === (g) DITD, depth = 1220 m ===
g_2014 = [(39, 34.996), (50, 34.996), (60, 34.997), (75, 34.996), (90, 34.996), (105, 34.995), (120, 34.995),
          (140, 34.995), (160, 34.994), (180, 34.993), (195, 34.992), (205, 34.99), (210, 34.985), (212, 34.977),
          (214, 34.99), (218, 34.988)]
g_2014_b = [(245, 34.995), (250, 35.0), (254, 35.012), (258, 35.005), (262, 35.015), (266, 35.012), (270, 35.02),
            (275, 35.022), (280, 35.025), (285, 35.027), (290, 35.024), (300, 35.025), (310, 35.024), (320, 35.025),
            (330, 35.024), (340, 35.023), (350, 35.023), (358, 35.023), (365, 35.023)]
g_2015 = [(1, 35.022), (10, 35.022), (20, 35.023), (30, 35.022), (40, 35.022), (50, 35.021), (60, 35.021),
          (66, 35.022)]
g_2015_b = [(70, 35.025), (80, 35.025), (95, 35.025), (110, 35.024), (118, 35.023), (119, 35.013), (121, 35.021),
            (125, 35.023), (140, 35.022), (155, 35.021), (170, 35.02), (185, 35.019), (200, 35.018), (205, 35.017),
            (207, 35.01), (209, 35.017), (215, 35.016), (225, 35.014), (232, 35.012), (238, 35.01), (242, 35.007),
            (245, 35.004), (247, 34.998), (249, 35.003), (251, 35.0)]
g_2016 = [(15, 35.01), (20, 35.008), (25, 35.006), (30, 35.008), (38, 35.006), (45, 35.007), (52, 35.005),
          (60, 35.006), (66, 35.005), (72, 35.003), (78, 35.0), (85, 34.998), (92, 34.997), (100, 34.996),
          (108, 34.995), (115, 34.995), (119, 34.98), (121, 34.994), (128, 34.995), (135, 34.993), (145, 34.994),
          (155, 34.993), (165, 34.992), (175, 34.99), (180, 34.99), (184, 34.986), (188, 34.988), (192, 34.984),
          (196, 34.986), (200, 34.985), (205, 34.983), (210, 34.984), (215, 34.982), (220, 34.98), (225, 34.981),
          (230, 34.978), (236, 34.976), (242, 34.973), (246, 34.97), (250, 34.966), (254, 34.968), (257, 34.962),
          (260, 34.958), (262, 34.955), (264, 34.962), (267, 34.97), (270, 34.975), (273, 34.99), (275, 35.0),
          (278, 35.01), (280, 35.005), (283, 35.007), (288, 35.003), (293, 34.998), (297, 34.995), (300, 35.005),
          (304, 35.003), (310, 35.0), (316, 34.998), (322, 35.001), (328, 35.0), (334, 35.0), (340, 34.999),
          (346, 34.998), (352, 34.997), (358, 34.996), (365, 34.995)]
g_2017 = [(1, 34.996), (10, 34.996), (20, 34.996), (30, 34.995), (40, 34.995), (50, 34.995), (60, 34.994),
          (70, 34.994), (77, 34.994)]
g_2017_b = [(212, 34.99), (225, 34.99), (240, 34.989), (255, 34.989), (265, 34.99), (275, 34.99), (285, 34.992),
            (292, 34.99), (298, 34.995), (302, 35.0), (306, 35.002), (310, 34.996), (315, 35.0), (320, 35.006),
            (325, 35.008), (330, 35.004), (336, 35.005), (342, 35.004), (346, 35.005), (350, 34.998),
            (355, 34.997), (360, 34.996), (365, 35.002)]
g_2018 = [(1, 35.006), (15, 35.006), (25, 35.005), (30, 35.002), (35, 35.005), (45, 35.004), (60, 35.004),
          (75, 35.003), (90, 35.001), (105, 35.0), (120, 34.999), (140, 34.999), (160, 34.998), (180, 34.997),
          (195, 34.995), (205, 34.99), (210, 34.985), (213, 34.976), (216, 34.985), (222, 34.983), (228, 34.985),
          (235, 34.983), (242, 34.982), (248, 34.985), (252, 34.99), (256, 34.995), (260, 34.998), (264, 35.004),
          (268, 35.0), (272, 35.006), (276, 34.998), (280, 35.0), (284, 34.995), (288, 34.998), (292, 35.005),
          (296, 35.008), (300, 35.0), (305, 35.006), (312, 35.008), (320, 35.01), (330, 35.01), (340, 35.011),
          (350, 35.012), (358, 35.012), (365, 35.012)]
g_2019 = [(48, 35.011), (56, 35.01), (64, 35.011), (70, 35.012)]
g_2019_b = [(343, 35.055), (350, 35.057), (356, 35.058), (360, 35.059), (365, 35.06)]
g_2020 = [(1, 35.06), (20, 35.06), (40, 35.059), (60, 35.058), (80, 35.057), (100, 35.056), (120, 35.055),
          (140, 35.054), (160, 35.053), (180, 35.052), (200, 35.05), (215, 35.048), (225, 35.046), (232, 35.044),
          (238, 35.042), (242, 35.041), (244, 35.045), (246, 35.049), (248, 35.047), (250, 35.044), (254, 35.04),
          (258, 35.039), (262, 35.038), (266, 35.04), (268, 35.037), (272, 35.036), (276, 35.038), (280, 35.034),
          (284, 35.035), (288, 35.03), (292, 35.033), (296, 35.036), (300, 35.038), (303, 35.041), (306, 35.036),
          (310, 35.04), (313, 35.035), (316, 35.041), (320, 35.037), (324, 35.033), (328, 35.035), (332, 35.034),
          (338, 35.033), (342, 35.031), (346, 35.033), (350, 35.036), (354, 35.038), (358, 35.038), (362, 35.037),
          (365, 35.036)]
g_2021 = [(1, 35.038), (10, 35.037), (19, 35.038)]
g_2021_b = [(23, 35.039), (35, 35.039), (45, 35.038), (52, 35.035), (55, 35.033), (58, 35.036), (64, 35.035),
            (68, 35.034), (71, 35.032), (76, 35.035), (85, 35.034), (95, 35.034), (105, 35.033), (118, 35.032),
            (130, 35.032), (145, 35.031), (160, 35.03), (175, 35.029), (185, 35.027), (190, 35.025), (195, 35.027),
            (200, 35.026), (210, 35.025), (215, 35.024), (222, 35.025), (230, 35.023), (238, 35.022), (244, 35.022),
            (248, 35.02), (251, 35.01), (253, 35.018), (256, 35.012), (258, 35.02), (262, 35.025), (266, 35.022),
            (270, 35.025), (275, 35.024), (280, 35.022), (285, 35.025), (290, 35.022), (295, 35.024), (300, 35.026),
            (305, 35.022), (310, 35.024), (316, 35.025), (322, 35.024), (328, 35.025), (334, 35.024), (340, 35.025),
            (345, 35.024)]
g_mean = [(1, 35.018), (4, 35.014), (6, 35.012), (10, 35.011), (14, 35.01), (20, 35.011), (26, 35.01), (32, 35.011),
          (38, 35.01), (44, 35.009), (50, 35.009), (56, 35.008), (62, 35.008), (66, 35.007), (70, 35.005),
          (73, 35.004), (76, 35.01), (78, 35.015), (80, 35.01), (84, 35.008), (92, 35.009), (100, 35.008),
          (110, 35.008), (120, 35.008), (130, 35.007), (140, 35.007), (150, 35.007), (160, 35.006), (170, 35.006),
          (180, 35.005), (184, 35.004), (187, 34.996), (189, 34.994), (192, 35.0), (196, 35.0), (200, 34.998),
          (203, 34.993), (205, 34.99), (208, 34.995), (212, 34.998), (216, 34.997), (220, 34.996), (223, 34.993),
          (224, 34.988), (226, 34.992), (230, 34.993), (236, 34.993), (240, 34.992), (244, 34.991), (247, 34.993),
          (250, 35.0), (254, 35.003), (258, 35.002), (262, 35.005), (265, 35.006), (268, 35.012), (272, 35.018),
          (275, 35.015), (278, 35.012), (282, 35.008), (286, 35.005), (289, 35.013), (293, 35.02), (297, 35.018),
          (301, 35.022), (305, 35.015), (308, 35.012), (312, 35.018), (316, 35.014), (320, 35.02), (324, 35.018),
          (328, 35.016), (332, 35.02), (338, 35.018), (344, 35.019), (350, 35.018), (356, 35.019), (362, 35.018),
          (365, 35.017)]


def draw(ax, pairs, color, lw=1.0, ls='-', band=None, label=None, z=2):
    arr = np.array(pairs, dtype=float)
    ax.plot(arr[:, 0], arr[:, 1], color=color, lw=lw, ls=ls, label=label, zorder=z)
    if band:
        ax.fill_between(arr[:, 0], arr[:, 1] - band, arr[:, 1] + band, color=color, alpha=0.2, lw=0, zorder=1)


def style(ax, ticks, fmt, ylim, show_x, tick_fs=9):
    ax.set_xlim(1, 366)
    ax.set_ylim(*ylim)
    ax.set_yticks(ticks)
    ax.set_yticklabels([fmt.format(t) for t in ticks])
    ax.set_xticks(month_starts)
    if show_x:
        ax.set_xticklabels(month_names)
    else:
        ax.set_xticklabels([])
    ax.tick_params(labelsize=tick_fs, colors='#222222', length=3.5)
    for s in ax.spines.values():
        s.set_color('#555555')


fig = plt.figure(figsize=(13.36, 8.24), dpi=100)
W, H = 1336, 824


def add_ax(x0, y0, x1, y1):
    return fig.add_axes([x0 / W, 1 - y1 / H, (x1 - x0) / W, (y1 - y0) / H])


ax_a = add_ax(73, 48, 664, 180)
ax_b = add_ax(73, 214, 664, 347)
ax_c = add_ax(73, 382, 664, 515)
ax_d = add_ax(734, 49, 1331, 183)
ax_e = add_ax(734, 216, 1331, 347)
ax_f = add_ax(734, 383, 1331, 518)
ax_g = add_ax(378, 632, 1090, 766)

# (a)
draw(ax_a, a_2014, col['2014'])
draw(ax_a, a_2015, col['2015'])
draw(ax_a, a_2016, col['2016'])
draw(ax_a, a_2018, col['2018'])
draw(ax_a, a_2019, col['2019'])
draw(ax_a, a_2020, col['2020'])
draw(ax_a, a_2017, col['2017'])
draw(ax_a, a_mean, 'black', lw=2.5, z=5)
style(ax_a, [34.00, 34.25, 34.50, 34.75, 35.00], '{:.2f}', (33.96, 35.033), False)

# (b)
draw(ax_b, b_2014, col['2014'])
draw(ax_b, b_2015, col['2015'])
draw(ax_b, b_2016, col['2016'])
draw(ax_b, b_2018, col['2018'])
draw(ax_b, b_2019, col['2019'])
draw(ax_b, b_2020, col['2020'])
draw(ax_b, b_2017, col['2017'])
draw(ax_b, b_mean, 'black', lw=2.5, z=5)
style(ax_b, [34.7, 34.8, 34.9, 35.0], '{:.1f}', (34.608, 35.015), False)

# (c)
bc = 0.0015
draw(ax_c, c_2014, col['2014'], band=bc)
draw(ax_c, c_2015, col['2015'], band=bc)
draw(ax_c, c_2015_end, col['2015'], band=bc)
draw(ax_c, c_2016, col['2016'], band=bc)
draw(ax_c, c_2019, col['2019'], lw=1.3, band=bc)
draw(ax_c, c_2019_b, col['2019'], lw=1.3, band=bc)
draw(ax_c, c_2024, col['2019'], band=bc)
draw(ax_c, c_2020, col['2020'], band=bc)
draw(ax_c, c_2022, col['2022'], band=bc)
draw(ax_c, c_2017, col['2017'], band=bc)
draw(ax_c, c_2021, col['2021'], band=bc)
draw(ax_c, c_mean, 'black', lw=2.5, z=5)
style(ax_c, [34.925, 34.950, 34.975, 35.000, 35.025], '{:.3f}', (34.919, 35.032), True, tick_fs=9)
ax_c.set_xlabel('dayofyear', fontsize=6.5, labelpad=2)

# (d)
draw(ax_d, d_192_purple, col['2017'], label='192')
draw(ax_d, d_192_gray, col['2018'], label='192')
draw(ax_d, d_63_gray, col['2018'], ls='--', label='63')
draw(ax_d, d_63_pink, col['2019'], ls='--', label='63')
draw(ax_d, d_63_red, 'red', ls='--', label='63')
style(ax_d, [34.00, 34.25, 34.50, 34.75], '{:.2f}', (33.87, 34.94), False)

# (e)
draw(ax_e, e_gray, col['2018'], label='208')
draw(ax_e, e_pink, col['2019'], label='208')
draw(ax_e, e_red, col['2020'], label='208')
style(ax_e, [34.6, 34.7, 34.8, 34.9], '{:.1f}', (34.561, 34.928), False)

# (f)
bf = 0.0018
draw(ax_f, f_1088_purple, col['2017'], band=bf, label='1088')
draw(ax_f, f_1088_gray, col['2018'], band=bf, label='1088')
draw(ax_f, f_1458_gray, col['2018'], ls='--', band=bf, label='1458')
draw(ax_f, f_1458_pink, col['2019'], ls='--', band=bf, label='1458')
draw(ax_f, f_1458_red, 'red', ls='--', band=bf, label='1458')
style(ax_f, [34.96, 34.98, 35.00, 35.02], '{:.2f}', (34.9554, 35.0246), True, tick_fs=9)

for ax in (ax_d, ax_e, ax_f):
    ax.legend(loc='lower right', title='depth', fontsize=6.5, title_fontsize=6.5,
              handlelength=2.2, labelspacing=0.35, borderpad=0.4, framealpha=0.9)

# (g)
bg = 0.0015
draw(ax_g, g_2020, col['2020'], band=bg)
draw(ax_g, g_2019, col['2019'], band=bg)
draw(ax_g, g_2019_b, col['2019'], band=bg)
draw(ax_g, g_2021, col['2021'], band=bg)
draw(ax_g, g_2021_b, col['2021'], band=bg)
draw(ax_g, g_2015, col['2015'], band=bg)
draw(ax_g, g_2015_b, col['2015'], band=bg)
draw(ax_g, g_2014, col['2014'], band=bg)
draw(ax_g, g_2014_b, col['2014'], band=bg)
draw(ax_g, g_2017, col['2017'], band=bg)
draw(ax_g, g_2017_b, col['2017'], band=bg)
draw(ax_g, g_2018, col['2018'], band=bg)
draw(ax_g, g_2016, col['2016'], band=bg)
draw(ax_g, g_mean, 'black', lw=2.5, band=bg, z=5)
style(ax_g, [34.95, 35.00, 35.05], '{:.2f}', (34.948, 35.068), True, tick_fs=11)

# panel titles and labels
depths = {ax_a: 'depth = 75 m', ax_b: 'depth = 275 m', ax_c: 'depth = 668 m',
          ax_d: 'depth = 63 m', ax_e: 'depth = 208 m', ax_f: 'depth = 1458 m', ax_g: 'depth = 1220'}
letters = {ax_a: '(a)', ax_b: '(b)', ax_c: '(c)', ax_d: '(d)', ax_e: '(e)', ax_f: '(f)', ax_g: '(g)'}
for ax in depths:
    ax.set_title(depths[ax], fontsize=9.5, pad=3)
    ax.text(0.005, 1.025, letters[ax], transform=ax.transAxes, fontsize=14, ha='left', va='bottom')

for ax in (ax_a, ax_b, ax_c):
    ax.set_ylabel('SA [g/kg]', fontsize=9.5)
for ax in (ax_d, ax_e, ax_f):
    ax.set_ylabel('SA  [g/kg]', fontsize=10)
ax_g.set_ylabel('SA    [g/kg]', fontsize=12)

fig.text((73 + 664) / 2 / W, 1 - 18 / H, 'DITN', ha='center', va='center', fontsize=14)
fig.text((734 + 1331) / 2 / W, 1 - 18 / H, 'DITS', ha='center', va='center', fontsize=14)
fig.text((378 + 1090) / 2 / W, 1 - 601 / H, 'DITD', ha='center', va='center', fontsize=14)

# shared year legend
handles = [Line2D([], [], color=c, lw=1.5, alpha=0.7) for c in year_colors]
handles.append(Line2D([], [], color='black', lw=1.5, alpha=0.6))
labels = years + ['Multi-year mean']
fig.legend(handles, labels, loc='upper left', bbox_to_anchor=(45 / W, 1 - 578 / H),
           fontsize=10.5, labelspacing=0.33, handlelength=1.95, borderaxespad=0, borderpad=0.4,
           handletextpad=0.8, frameon=True, fancybox=True)

fig.savefig('out.png', dpi=100)
